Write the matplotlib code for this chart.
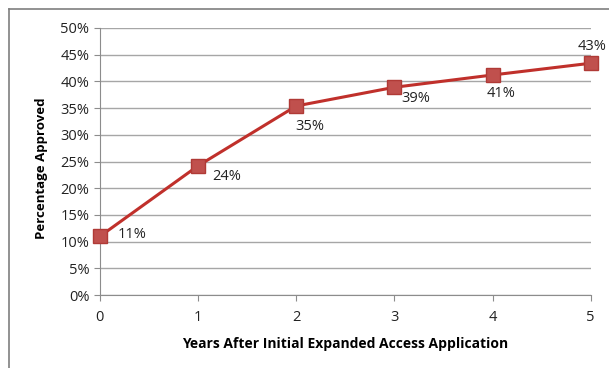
import matplotlib
matplotlib.use("Agg")
import matplotlib.pyplot as plt
from matplotlib.lines import Line2D
from matplotlib.ticker import FuncFormatter

years = [0, 1, 2, 3, 4, 5]
approved = [11.0, 24.2, 35.4, 38.9, 41.2, 43.4]
labels = ["11%", "24%", "35%", "39%", "41%", "43%"]
# label offsets in pixels (dx, dy) and alignment
offsets = [(18, 2), (14, -11), (14, -21), (21, -11), (9, -19), (1, 17)]
aligns = ['left', 'left', 'center', 'center', 'center', 'center']

plt.rcParams['font.family'] = ['Open Sans', 'DejaVu Sans']

fig = plt.figure(figsize=(6.09, 3.68), dpi=100)
ax = fig.add_axes([0.164, 0.198, 0.806, 0.726])

red = '#c0504d'
ax.plot(years, approved, '-', color='#c0302b', lw=2.2,
        marker='s', markersize=9.5, markerfacecolor=red,
        markeredgecolor='#b03a36', markeredgewidth=1, zorder=3,
        clip_on=False)

for x, y, t, (dx, dy), ha in zip(years, approved, labels, offsets, aligns):
    ax.annotate(t, (x, y), xytext=(dx, dy), textcoords='offset pixels',
                ha=ha, va='center', fontsize=10.5, color='#222222')

ax.set_xlim(0, 5)
ax.set_ylim(0, 50)
ax.set_yticks(range(0, 51, 5))
ax.set_xticks(years)
ax.yaxis.set_major_formatter(FuncFormatter(lambda v, p: f"{int(v)}%"))
ax.grid(axis='y', color='#a6a6a6', lw=1)
ax.set_axisbelow(True)
for s in ['top', 'right']:
    ax.spines[s].set_visible(False)
for s in ['left', 'bottom']:
    ax.spines[s].set_color('#8c8c8c')
ax.tick_params(axis='both', colors='#8c8c8c', labelcolor='#222222',
               labelsize=10.5, length=4, direction='out')
ax.tick_params(axis='x', pad=7)

ax.set_xlabel("Years After Initial Expanded Access Application",
              fontsize=10, fontweight='bold', labelpad=8)
ax.set_ylabel("Percentage Approved", fontsize=9.5, fontweight='bold')
ax.yaxis.set_label_coords(-0.106, 0.475)

# outer chart border
fig.add_artist(Line2D([0.015, 0.015], [0, 0.976], color='#7f7f7f', lw=1.2))
fig.add_artist(Line2D([0.015, 1.0], [0.976, 0.976], color='#7f7f7f', lw=1.2))

fig.savefig("out.png", dpi=100)
